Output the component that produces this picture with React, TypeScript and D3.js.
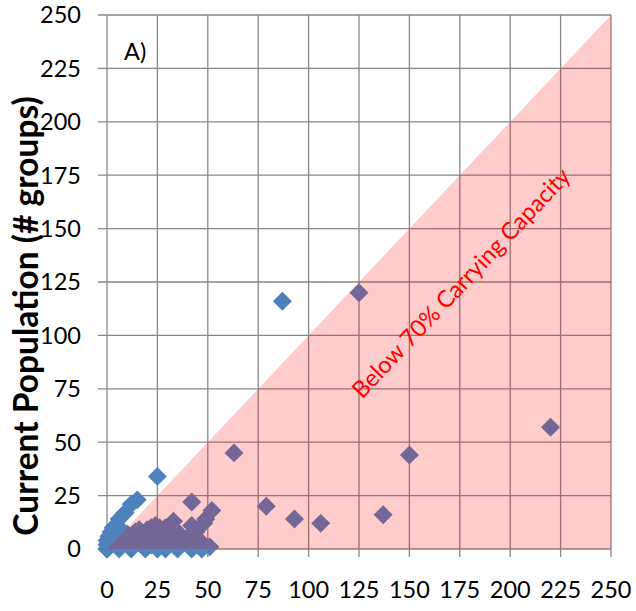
import React from "react";
import * as d3 from "d3";

// axis ticks (both axes share the same 0..250 scale)
const xTicks = [0, 25, 50, 75, 100, 125, 150, 175, 200, 225, 250];
const yTicks = [0, 25, 50, 75, 100, 125, 150, 175, 200, 225, 250];

// carrying capacity (x) and current population (y)
const carryingCapacity = [
  87, 125, 220, 150, 137, 106, 63, 79, 93, 25, 42, 15, 12, 9, 6, 52, 49, 48, 33, 42, 29, 46, 41, 36,
  0, 0, 0, 1, 2, 3, 5, 4, 2, 1,
  8, 10, 12, 14, 16, 18, 20, 22, 24, 26, 28, 20, 15, 10, 25, 30, 35, 38, 44, 45, 40, 22, 18, 12, 6, 8, 27, 31, 23, 17,
  0, 6, 12, 19, 25, 29, 35, 42, 47, 51,
];
const currentPopulation = [
  116, 120, 57, 44, 16, 12, 45, 20, 14, 34, 22, 23, 21, 17, 14, 18, 14, 12, 13, 11, 10, 4, 6, 7,
  0, 2, 4, 6, 8, 10, 11, 5, 3, 1,
  8, 7, 6, 8, 9, 7, 9, 10, 11, 10, 8, 5, 4, 3, 5, 4, 3, 5, 8, 2, 2, 2, 3, 2, 2, 5, 6, 7, 7, 6,
  0, 0, 0, 0, 0, 0, 0, 0, 0, 1,
];

const annotationText = "Below 70% Carrying Capacity";
const panelLabel = "A)";
const yTitle = "Current Population (# groups)";

const W = 636;
const H = 611;
const margin = { top: 15, right: 25, bottom: 62, left: 107 };

export default function App() {
  const x = d3.scaleLinear().domain([0, 250]).range([margin.left, W - margin.right]);
  const y = d3.scaleLinear().domain([0, 250]).range([H - margin.bottom, margin.top]);

  const points = carryingCapacity.map((c, i) => ({ x: c, y: currentPopulation[i] }));
  const diamond = d3.symbol().type(d3.symbolSquare).size(180)();

  const tri = [
    [0, 0],
    [250, 250],
    [250, 0],
  ];
  const triPath = d3.line()(tri.map(([a, b]) => [x(a), y(b)]) as [number, number][]);

  const angle = (Math.atan2(y(0) - y(250), x(250) - x(0)) * 180) / Math.PI;
  const grid = "#878787";
  const font = "Lato, 'Open Sans', sans-serif";

  return (
    <svg
      width={W}
      height={H}
      style={{ position: "absolute", left: 0, top: 0, background: "#fff" }}
      fontFamily={font}
    >
      {/* gridlines */}
      {xTicks.map((t) => (
        <line key={"gx" + t} x1={x(t)} x2={x(t)} y1={y(250)} y2={y(0) + 8} stroke={grid} strokeWidth={1.3} />
      ))}
      {yTicks.map((t) => (
        <line key={"gy" + t} x1={x(0) - 9} x2={x(250)} y1={y(t)} y2={y(t)} stroke={grid} strokeWidth={1.3} />
      ))}

      {/* markers */}
      {points.map((d, i) => (
        <path
          key={i}
          d={diamond}
          transform={`translate(${x(d.x)},${y(d.y)}) rotate(45)`}
          fill="#4f81bd"
        />
      ))}

      {/* shaded region below the diagonal */}
      <path d={triPath + "Z"} fill="rgba(255,0,0,0.2)" />

      {/* tick labels */}
      {xTicks.map((t) => (
        <text key={"tx" + t} x={x(t)} y={598} textAnchor="middle" fontSize={23.5} fill="#000">
          {t}
        </text>
      ))}
      {yTicks.map((t) => (
        <text key={"ty" + t} x={81} y={y(t)} dy="0.36em" textAnchor="end" fontSize={23.5} fill="#000">
          {t}
        </text>
      ))}

      <text
        transform={`translate(38,316) rotate(-90)`}
        textAnchor="middle"
        fontSize={33.5}
        fontWeight="bold"
        fill="#000"
      >
        {yTitle}
      </text>

      <text x={124} y={60} fontSize={23.5} fill="#000">
        {panelLabel}
      </text>

      <text
        transform={`translate(461,283) rotate(${-angle})`}
        textAnchor="middle"
        dy="0.35em"
        fontSize={23.5}
        fill="#ff0000"
      >
        {annotationText}
      </text>
    </svg>
  );
}
